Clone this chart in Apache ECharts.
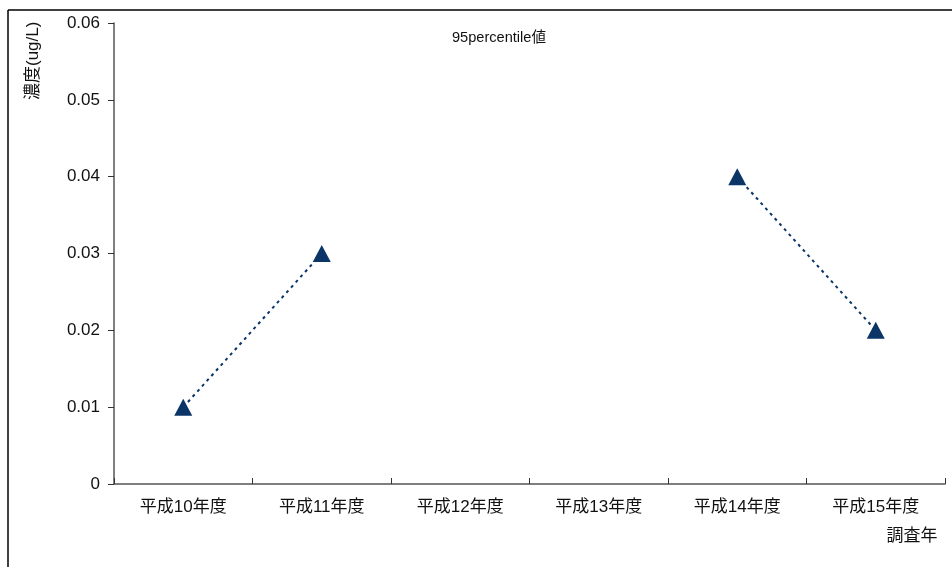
<!DOCTYPE html>
<html>
<head>
<meta charset="utf-8">
<script src="https://cdn.jsdelivr.net/npm/echarts@6/dist/echarts.min.js"></script>
<style>
  html, body { margin: 0; padding: 0; background: #fff; }
  #chart { width: 952px; height: 567px; }
</style>
</head>
<body>
<div id="chart"></div>
<script>
// Survey years and 95th percentile concentrations (ug/L); null = no value that year
const categories = ['平成10年度', '平成11年度', '平成12年度', '平成13年度', '平成14年度', '平成15年度'];
const p95Values = [0.01, 0.03, null, null, 0.04, 0.02];
const yTicks = [0, 0.01, 0.02, 0.03, 0.04, 0.05, 0.06];

const FONT = '"Liberation Sans", "Noto Sans CJK JP", sans-serif';
const NAVY = '#0b3567';

const chart = echarts.init(document.getElementById('chart'), null, { renderer: 'canvas' });

chart.setOption({
  animation: false,
  backgroundColor: '#ffffff',
  title: {
    text: '95percentile値',
    left: 494,
    top: 26,
    textAlign: 'center',
    textStyle: { fontFamily: FONT, fontSize: 14.6, fontWeight: 'normal', color: '#111' }
  },
  grid: { left: 114, top: 23, right: 7, bottom: 83, containLabel: false },
  xAxis: {
    type: 'category',
    data: categories,
    boundaryGap: true,
    axisLine: { show: true, lineStyle: { color: '#555', width: 1.5 } },
    axisTick: { show: true, inside: true, length: 6, interval: 0, lineStyle: { color: '#333' } },
    axisLabel: { interval: 0, margin: 15, fontFamily: FONT, fontSize: 17, color: '#111' },
    splitLine: { show: false }
  },
  yAxis: {
    type: 'value',
    min: yTicks[0],
    max: yTicks[yTicks.length - 1],
    interval: 0.01,
    axisLine: { show: true, lineStyle: { color: '#555', width: 1.5 } },
    axisTick: { show: true, inside: false, length: 6, lineStyle: { color: '#333' } },
    axisLabel: {
      margin: 14,
      fontFamily: FONT,
      fontSize: 17,
      color: '#111',
      formatter: v => (v === 0 ? '0' : v.toFixed(2))
    },
    splitLine: { show: false }
  },
  graphic: [
    // frame lines along the top and left edges
    { type: 'line', shape: { x1: 8, y1: 10, x2: 952, y2: 10 }, style: { stroke: '#000', lineWidth: 1.5 }, silent: true },
    { type: 'line', shape: { x1: 8, y1: 10, x2: 8, y2: 567 }, style: { stroke: '#000', lineWidth: 1.5 }, silent: true },
    {
      type: 'text',
      x: 33,
      y: 100,
      rotation: Math.PI / 2,
      style: { text: '濃度(ug/L)', font: '17px ' + FONT, fill: '#111', textAlign: 'left', textVerticalAlign: 'middle' }
    },
    {
      type: 'text',
      x: 912,
      y: 536,
      style: { text: '調査年', font: '17px ' + FONT, fill: '#111', textAlign: 'center', textVerticalAlign: 'middle' }
    }
  ],
  series: [{
    type: 'line',
    data: p95Values,
    connectNulls: false,
    symbol: 'triangle',
    symbolSize: [18, 17],
    itemStyle: { color: NAVY },
    lineStyle: { color: NAVY, width: 2, type: [3, 4] }
  }]
});
</script>
</body>
</html>
